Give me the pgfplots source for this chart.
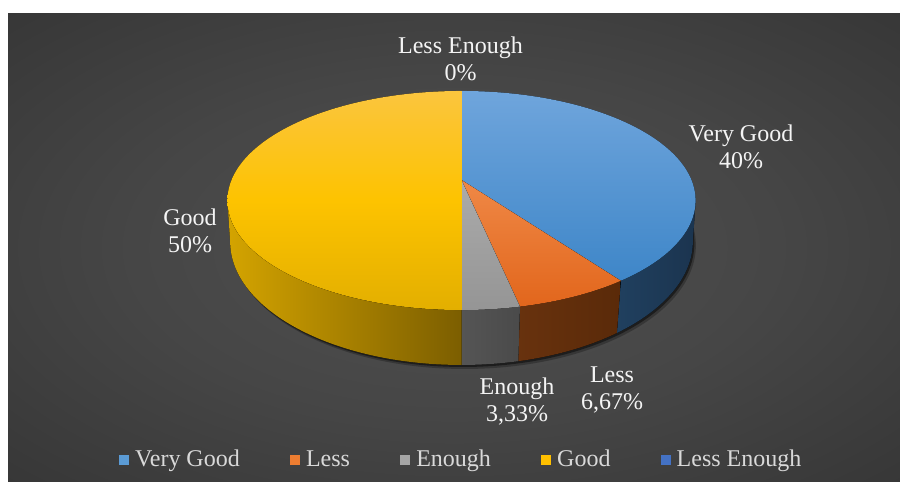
\documentclass[border=0pt]{standalone}
\usepackage{pgfplots}
\pgfplotsset{compat=1.18}
\usepackage{pgfplotstable}
\usepackage{fontspec}
\setmainfont{Liberation Serif}

\definecolor{bgA}{HTML}{505050}
\definecolor{bgB}{HTML}{464646}
\definecolor{bgC}{HTML}{2F2F2F}
\definecolor{bgD}{HTML}{242424}
\definecolor{vgTopA}{HTML}{6FA5DC}
\definecolor{vgTopB}{HTML}{3E86C8}
\definecolor{vgSideA}{HTML}{20405F}
\definecolor{vgSideB}{HTML}{1B344F}
\definecolor{lsTopA}{HTML}{EF8846}
\definecolor{lsTopB}{HTML}{E2661C}
\definecolor{lsSideA}{HTML}{68320E}
\definecolor{lsSideB}{HTML}{5A2A09}
\definecolor{enTopA}{HTML}{ABABAB}
\definecolor{enTopB}{HTML}{959595}
\definecolor{enSideA}{HTML}{555555}
\definecolor{enSideB}{HTML}{4A4A4A}
\definecolor{gdTopA}{HTML}{FBC53E}
\definecolor{gdTopM}{HTML}{FDC300}
\definecolor{gdTopB}{HTML}{E3AF00}
\definecolor{gdSideA}{HTML}{D4A400}
\definecolor{gdSideB}{HTML}{7C5E00}
\definecolor{vgLeg}{HTML}{5B9BD5}
\definecolor{lsLeg}{HTML}{ED7D31}
\definecolor{enLeg}{HTML}{A5A5A5}
\definecolor{gdLeg}{HTML}{FFC000}
\definecolor{leLeg}{HTML}{4472C4}
\definecolor{labtext}{HTML}{F4F4F4}
\definecolor{legtext}{HTML}{D9D9D9}

\pgfdeclareradialshading{bgshade}{\pgfpoint{0bp}{0bp}}{color(0bp)=(bgA); color(18bp)=(bgB); color(45bp)=(bgC); color(72bp)=(bgD)}

\newcommand\labfont{\fontsize{13.66pt}{15.37pt}\selectfont}

% data: shares in percent (Very Good, Less, Enough, Good, Less Enough)
\pgfplotstableread{
idx value
0 40
1 6.67
2 3.33
3 50
4 0
}\piedata

% perspective projection of a circle point at angle #1 -> ellipse parameter
\newcommand\persp[5]{%
 \pgfmathsetmacro\pw{1+#4*sin(#1)}%
 \pgfmathsetmacro\pXr{#2*cos(#1)/\pw}%
 \pgfmathsetmacro\pYr{#3*sin(#1)/\pw}%
 \pgfmathsetmacro\pa{#2/sqrt(1-#4*#4)}%
 \pgfmathsetmacro\pb{#3/(1-#4*#4)}%
 \pgfmathsetmacro\poff{#4*\pb}%
 \pgfmathsetmacro\pt{atan2((\pYr+\poff)/\pb,\pXr/\pa)}%
 \pgfmathsetmacro\pt{\pt+360*round((#1-\pt)/360)}%
 \expandafter\xdef\csname #5\endcsname{\pt}%
}

\newcommand\side[5]{%
 \fill[#1] (axis cs:{\cx+\aT*cos(#2)},{\cyT+\bT*sin(#2)}) arc[start angle=#2, end angle=#3, x radius=\aTr cm, y radius=\bTr cm] -- (axis cs:{\cx+\aB*cos(#4)},{\cyB+\bB*sin(#4)}) arc[start angle=#4, end angle=#5, x radius=\aBr cm, y radius=\bBr cm] -- cycle;%
}
\newcommand\topslice[3]{%
 \fill[#1] (axis cs:\cx,\apexT) -- (axis cs:{\cx+\aT*cos(#2)},{\cyT+\bT*sin(#2)}) arc[start angle=#2, end angle=#3, x radius=\aTr cm, y radius=\bTr cm] -- cycle;%
}

\begin{document}%
\begin{tikzpicture}
\pgfplotstablegetelem{0}{value}\of\piedata \let\vA\pgfplotsretval
\pgfplotstablegetelem{1}{value}\of\piedata \let\vB\pgfplotsretval
\pgfplotstablegetelem{2}{value}\of\piedata \let\vC\pgfplotsretval
\pgfplotstablegetelem{3}{value}\of\piedata \let\vD\pgfplotsretval
\pgfmathsetmacro\phiA{90}
\pgfmathsetmacro\phiB{\phiA-3.6*\vA}
\pgfmathsetmacro\phiC{\phiB-3.6*\vB}
\pgfmathsetmacro\phiD{\phiC-3.6*\vC}
\pgfmathsetmacro\phiE{\phiD-3.6*\vD}
% geometry (pixel units, y upwards)
\def\cx{461.5}
\def\apexT{301}\def\AT{230}\def\BT{105.7}\def\pT{0.1872}
\def\apexB{260.6}\def\AB{228}\def\BB{120}\def\pB{0.17}
\pgfmathsetmacro\aT{\AT/sqrt(1-\pT*\pT)}
\pgfmathsetmacro\bT{\BT/(1-\pT*\pT)}
\pgfmathsetmacro\cyT{\apexT-\pT*\bT}
\pgfmathsetmacro\aB{\AB/sqrt(1-\pB*\pB)}
\pgfmathsetmacro\bB{\BB/(1-\pB*\pB)}
\pgfmathsetmacro\cyB{\apexB-\pB*\bB}
\pgfmathsetmacro\aTr{\aT*0.02}
\pgfmathsetmacro\bTr{\bT*0.02}
\pgfmathsetmacro\aBr{\aB*0.02}
\pgfmathsetmacro\bBr{\bB*0.02}
\persp{\phiA}{\AT}{\BT}{\pT}{tTa}\persp{\phiB}{\AT}{\BT}{\pT}{tTb}
\persp{\phiC}{\AT}{\BT}{\pT}{tTc}\persp{\phiD}{\AT}{\BT}{\pT}{tTd}
\persp{\phiE}{\AT}{\BT}{\pT}{tTe}
\persp{\phiB}{\AB}{\BB}{\pB}{tBb}\persp{\phiC}{\AB}{\BB}{\pB}{tBc}
\persp{\phiD}{\AB}{\BB}{\pB}{tBd}
\begin{axis}[
  x=0.02cm, y=0.02cm, xmin=0, xmax=900, ymin=0, ymax=481,
  scale only axis, hide axis, clip=false,
  legend columns=5,
  legend image code/.code={\fill[#1] (0pt,-2.85pt) rectangle (5.7pt,2.85pt);},
  legend style={at={(0.5128,0.0437)}, anchor=center, draw=none, fill=none,
    text=legtext, font=\labfont, inner sep=0pt,
    nodes={inner xsep=1.5pt, inner ysep=1pt},
    /tikz/every odd column/.append style={column sep=2pt},
    /tikz/every even column/.append style={column sep=27pt}},
]
\addlegendimage{fill=vgLeg, draw=none}\addlegendentry{Very Good}
\addlegendimage{fill=lsLeg, draw=none}\addlegendentry{Less}
\addlegendimage{fill=enLeg, draw=none}\addlegendentry{Enough}
\addlegendimage{fill=gdLeg, draw=none}\addlegendentry{Good}
\addlegendimage{fill=leLeg, draw=none}\addlegendentry{Less Enough}

\fill[white] (axis cs:0,0) rectangle (axis cs:900,481);
\shade[shading=bgshade] (axis cs:8,0) rectangle (axis cs:900,467);

% shadow
\fill[black, opacity=0.25] (axis cs:{\cx+3},{\cyB-4}) ellipse[x radius=\aBr cm, y radius=\bBr cm];
\fill[black, opacity=0.45] (axis cs:{\cx+1.5},{\cyB-2}) ellipse[x radius=\aBr cm, y radius=\bBr cm];

% side faces
\side{left color=vgSideA, right color=vgSideB}{0}{\tTb}{\tBb}{0}
\side{left color=lsSideA, right color=lsSideB}{\tTb}{\tTc}{\tBc}{\tBb}
\side{left color=enSideA, right color=enSideB}{\tTc}{\tTd}{\tBd}{\tBc}
\side{left color=gdSideA, right color=gdSideB}{\tTd}{-180}{-180}{\tBd}

% top faces
\topslice{top color=vgTopA, bottom color=vgTopB}{\tTa}{\tTb}
\topslice{top color=lsTopA, bottom color=lsTopB}{\tTb}{\tTc}
\topslice{top color=enTopA, bottom color=enTopB}{\tTc}{\tTd}
\topslice{top color=gdTopA, bottom color=gdTopB, middle color=gdTopM}{\tTd}{\tTe}

% labels
\node[align=center, text=labtext, font=\labfont] at (axis cs:460.5,422.5) {Less Enough\\0\%};
\node[align=center, text=labtext, font=\labfont] at (axis cs:741,334.5) {Very Good\\40\%};
\node[align=center, text=labtext, font=\labfont] at (axis cs:190,250.5) {Good\\50\%};
\node[align=center, text=labtext, font=\labfont] at (axis cs:612,91.5) {Less\\6,67\%};
\node[align=center, text=labtext, font=\labfont] at (axis cs:517,79) {Enough\\3,33\%};
\end{axis}
\end{tikzpicture}%
\end{document}
